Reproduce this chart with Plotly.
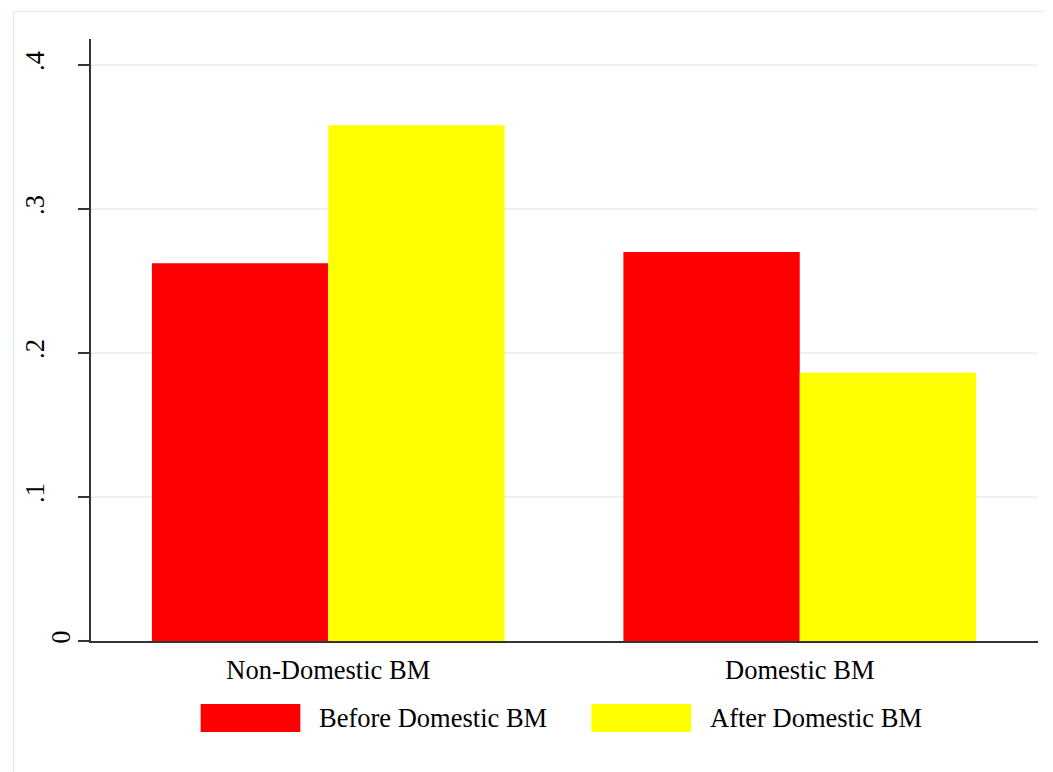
import plotly.graph_objects as go

categories = ["Non-Domestic BM", "Domestic BM"]
before_vals = [0.2623, 0.2701]
after_vals = [0.3581, 0.1863]
series_names = ["Before Domestic BM", "After Domestic BM"]
series_colors = ["#ff0000", "#ffff00"]
ytick_vals = [0.1, 0.2, 0.3, 0.4]
ytick_text = [".1", ".2", ".3", ".4"]

FONT = "Liberation Serif"
OFF = 8  # page body margin
W, H = 1053 - OFF, 772 - OFF
ML, MR, MT, MB = 88 - OFF, 15, 39 - OFF, 131
PW, PH = W - ML - MR, H - MT - MB

def px(x):
    return (x - OFF - ML) / PW

def py(y):
    return (H - MB - (y - OFF)) / PH

fig = go.Figure()
for name, vals, col in zip(series_names, [before_vals, after_vals], series_colors):
    fig.add_trace(go.Bar(x=categories, y=vals, name=name, marker=dict(color=col, line=dict(width=0)),
                         showlegend=False))
# invisible trace on overlay axis for the "0" label
fig.add_trace(go.Scatter(x=[categories[0]], y=[0], yaxis="y2", mode="markers",
                         marker=dict(opacity=0), showlegend=False, hoverinfo="skip"))

fig.update_layout(
    width=W, height=H,
    margin=dict(l=ML, r=MR, t=MT, b=MB),
    paper_bgcolor="white", plot_bgcolor="white",
    barmode="group", bargap=0.252, bargroupgap=0,
    font=dict(family=FONT, size=26.5, color="black"),
    xaxis=dict(range=[-0.5032, 1.5053], showgrid=False, showline=True, linecolor="#333333",
               linewidth=1.5, ticks="", tickfont=dict(family=FONT, size=26.5, color="black"),
               ticklabelstandoff=4, zeroline=False),
    yaxis=dict(range=[0, 0.41806], tickvals=[0] + ytick_vals, ticktext=[""] + ytick_text,
               showgrid=True, gridcolor="#eaf2f3", gridwidth=2, showline=True,
               linecolor="#333333", linewidth=1.5, ticks="outside", ticklen=11,
               tickcolor="#333333", tickwidth=1.5, tickangle=-90,
               tickfont=dict(family=FONT, size=26.5, color="black"),
               ticklabelstandoff=24, zeroline=False),
    yaxis2=dict(range=[0, 0.41806], overlaying="y", side="left", tickvals=[0], ticktext=["0"],
                showgrid=False, showline=False, ticks="", tickangle=-90,
                tickfont=dict(family=FONT, size=26.5, color="black"),
                ticklabelstandoff=15, zeroline=False),
)

# outer frame
fig.add_shape(type="rect", xref="paper", yref="paper", x0=px(10.5), x1=px(1070), y0=py(790), y1=py(11.5),
              line=dict(color="#e4eef0", width=1.5), fillcolor="rgba(0,0,0,0)", layer="below")

# legend
legend_swatch_x = [(198, 298), (590, 690)]
legend_text_x = [315, 707]
for (x0, x1), tx, name, col in zip(legend_swatch_x, legend_text_x, series_names, series_colors):
    fig.add_shape(type="rect", xref="paper", yref="paper", x0=px(x0), x1=px(x1), y0=py(732), y1=py(704),
                  line=dict(width=0), fillcolor=col)
    fig.add_annotation(xref="paper", yref="paper", x=px(tx), y=py(718), text=name, showarrow=False,
                       xanchor="left", yanchor="middle", font=dict(family=FONT, size=26.5, color="black"))

fig.write_html("out.html")
